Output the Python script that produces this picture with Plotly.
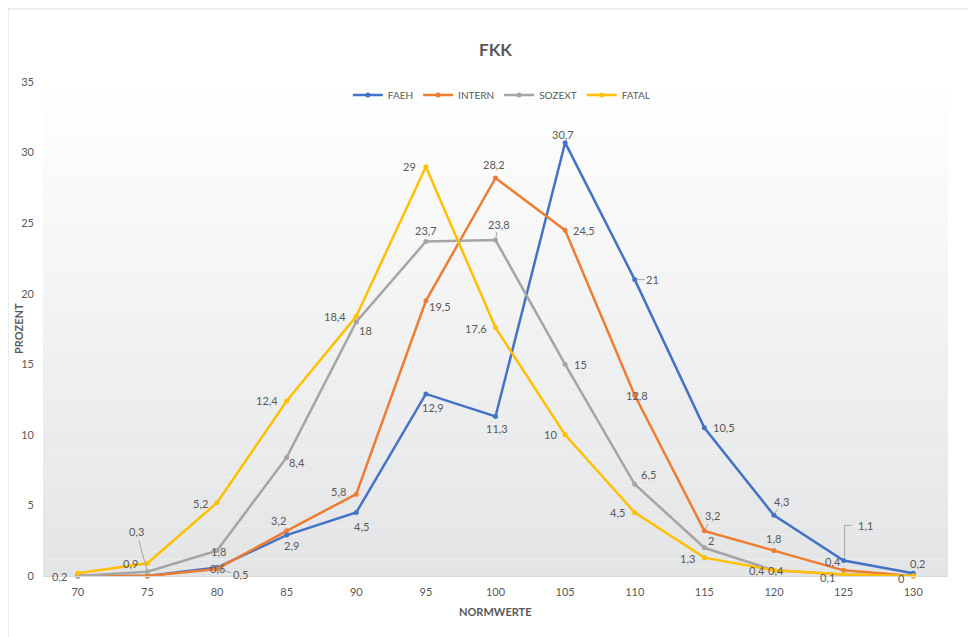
import plotly.graph_objects as go

# ---------------- data ----------------
normwerte = [70, 75, 80, 85, 90, 95, 100, 105, 110, 115, 120, 125, 130]
faeh   = [0, 0, 0.6, 2.9, 4.5, 12.9, 11.3, 30.7, 21, 10.5, 4.3, 1.1, 0.2]
intern = [0, 0, 0.5, 3.2, 5.8, 19.5, 28.2, 24.5, 12.8, 3.2, 1.8, 0.4, 0]
sozext = [0, 0.3, 1.8, 8.4, 18, 23.7, 23.8, 15, 6.5, 2, 0.4, 0.1, 0]
fatal  = [0.2, 0.9, 5.2, 12.4, 18.4, 29, 17.6, 10, 4.5, 1.3, 0.4, 0.1, 0]
y_ticks = [0, 5, 10, 15, 20, 25, 30, 35]

# ---------------- styling ----------------
FONT = "Lato"
TXT = "#595959"
LEAD = "#A6A6A6"
series = [
    ("FAEH", faeh, "#4472C4"),
    ("INTERN", intern, "#ED7D31"),
    ("SOZEXT", sozext, "#A5A5A5"),
    ("FATAL", fatal, "#FFC000"),
]
# label placement (dx, dy in px, dy downwards; "L" = straight leader, "E" = elbow leader)
label_pos = {
    "FAEH": [None, None, (0, 1), (5, 10), (5, 14), (7, 14), (1, 12), (-2, -8),
             (18, 0, "L"), (20, 0), (8, -14, "L"), (22, -35, "E"), (4, -10)],
    "INTERN": [None, None, (23, 6, "L"), (-8, -10), (-18, -3), (14, 6), (-2, -13),
               (19, 0), (2, 0), (8, -15, "L"), (0, -12), (-11, -9), None],
    "SOZEXT": [None, (-11, -40, "L"), (1, 1), (10, 5), (9, 9), (0, -11), (3, -16, "L"),
               (15, 0), (14, -10), (7, -7), (-17, 0), (-16, 3), None],
    "FATAL": [(-18, 3), (-17, 0), (-17, 1), (-20, 0), (-21, 0), (-16, 0), (-20, 1),
              (-15, 0), (-17, 0), (-17, 1), (2, 0), None, (-12, 2)],
}


def fmt(v):
    return f"{v:g}".replace(".", ",")


fig = go.Figure()
annotations = []
shapes = []
for name, vals, col in series:
    fig.add_trace(go.Scatter(
        x=normwerte, y=vals, name=name, mode="lines+markers",
        line=dict(color=col, width=2.5),
        marker=dict(color=col, size=5),
        cliponaxis=False,
    ))
    for xv, yv, pos in zip(normwerte, vals, label_pos[name]):
        if pos is None:
            continue
        dx, dy = pos[0], pos[1]
        kind = pos[2] if len(pos) > 2 else None
        if kind == "L":
            annotations.append(dict(
                x=xv, y=yv, xref="x", yref="y", text=fmt(yv),
                showarrow=True, arrowhead=0, arrowwidth=1, arrowcolor=LEAD,
                ax=dx, ay=dy, standoff=2,
                font=dict(family=FONT, size=11, color=TXT)))
        else:
            annotations.append(dict(
                x=xv, y=yv, xref="x", yref="y", text=fmt(yv),
                showarrow=False, xshift=dx, yshift=-dy,
                font=dict(family=FONT, size=11, color=TXT)))
            if kind == "E":
                h = -dy
                shapes.append(dict(
                    type="path", xref="x", yref="y", xsizemode="pixel", ysizemode="pixel",
                    xanchor=xv, yanchor=yv,
                    path=f"M 1 3 L 1 {h} L {dx - 14} {h}",
                    line=dict(color=LEAD, width=1), layer="above"))

# axis titles
annotations.append(dict(x=0.5, y=-35 / 494, xref="paper", yref="paper", text="<b>NORMWERTE</b>",
                        xanchor="center", yanchor="middle",
                        showarrow=False, font=dict(family=FONT, size=11, color=TXT)))
annotations.append(dict(x=-25 / 905, y=0.5, xref="paper", yref="paper", text="<b>PROZENT</b>",
                        xanchor="center", yanchor="middle",
                        showarrow=False, textangle=-90, font=dict(family=FONT, size=11, color=TXT)))

# gradient background of plot area + outer border
N = 60
top = (255, 255, 255)
bot = (227, 228, 230)
for i in range(N):
    t = (i + 0.5) / N
    c = tuple(round(bot[k] + (top[k] - bot[k]) * t) for k in range(3))
    shapes.append(dict(type="rect", xref="paper", yref="paper", x0=0, x1=1,
                       y0=i / N, y1=(i + 1) / N, layer="below",
                       fillcolor=f"rgb{c}", line=dict(width=0)))
shapes.append(dict(type="rect", xref="paper", yref="paper", x0=-35 / 905, x1=1.2,
                   y0=-0.3, y1=1 + 73 / 494, layer="below",
                   fillcolor="rgba(0,0,0,0)", line=dict(color="#D9D9D9", width=1)))

fig.update_layout(
    width=968, height=629,
    margin=dict(l=35, r=28, t=74, b=61),
    paper_bgcolor="white", plot_bgcolor="white",
    title=dict(text="<b>FKK</b>", x=0.5, xref="paper", xanchor="center", y=1 - 42 / 629,
               yanchor="middle", font=dict(family=FONT, size=17, color=TXT)),
    font=dict(family=FONT, size=11, color=TXT),
    showlegend=True,
    legend=dict(orientation="h", x=0.507, xanchor="center", y=1 - 13 / 494, yanchor="middle",
                bgcolor="rgba(0,0,0,0)", font=dict(family=FONT, size=10, color=TXT),
                itemwidth=30, traceorder="normal"),
    xaxis=dict(range=[67.5, 132.5], tickvals=normwerte, ticktext=[str(v) for v in normwerte],
               showgrid=False, zeroline=False, showline=True, linecolor="#D9D9D9", linewidth=1,
               ticks="", ticklabelstandoff=6, tickfont=dict(family=FONT, size=11, color=TXT)),
    yaxis=dict(range=[0, 35], tickvals=y_ticks, showgrid=False, zeroline=False, showline=False,
               ticks="", ticklabelstandoff=8, tickfont=dict(family=FONT, size=11, color=TXT)),
    annotations=annotations,
    shapes=shapes,
)

fig.write_html("out.html")
